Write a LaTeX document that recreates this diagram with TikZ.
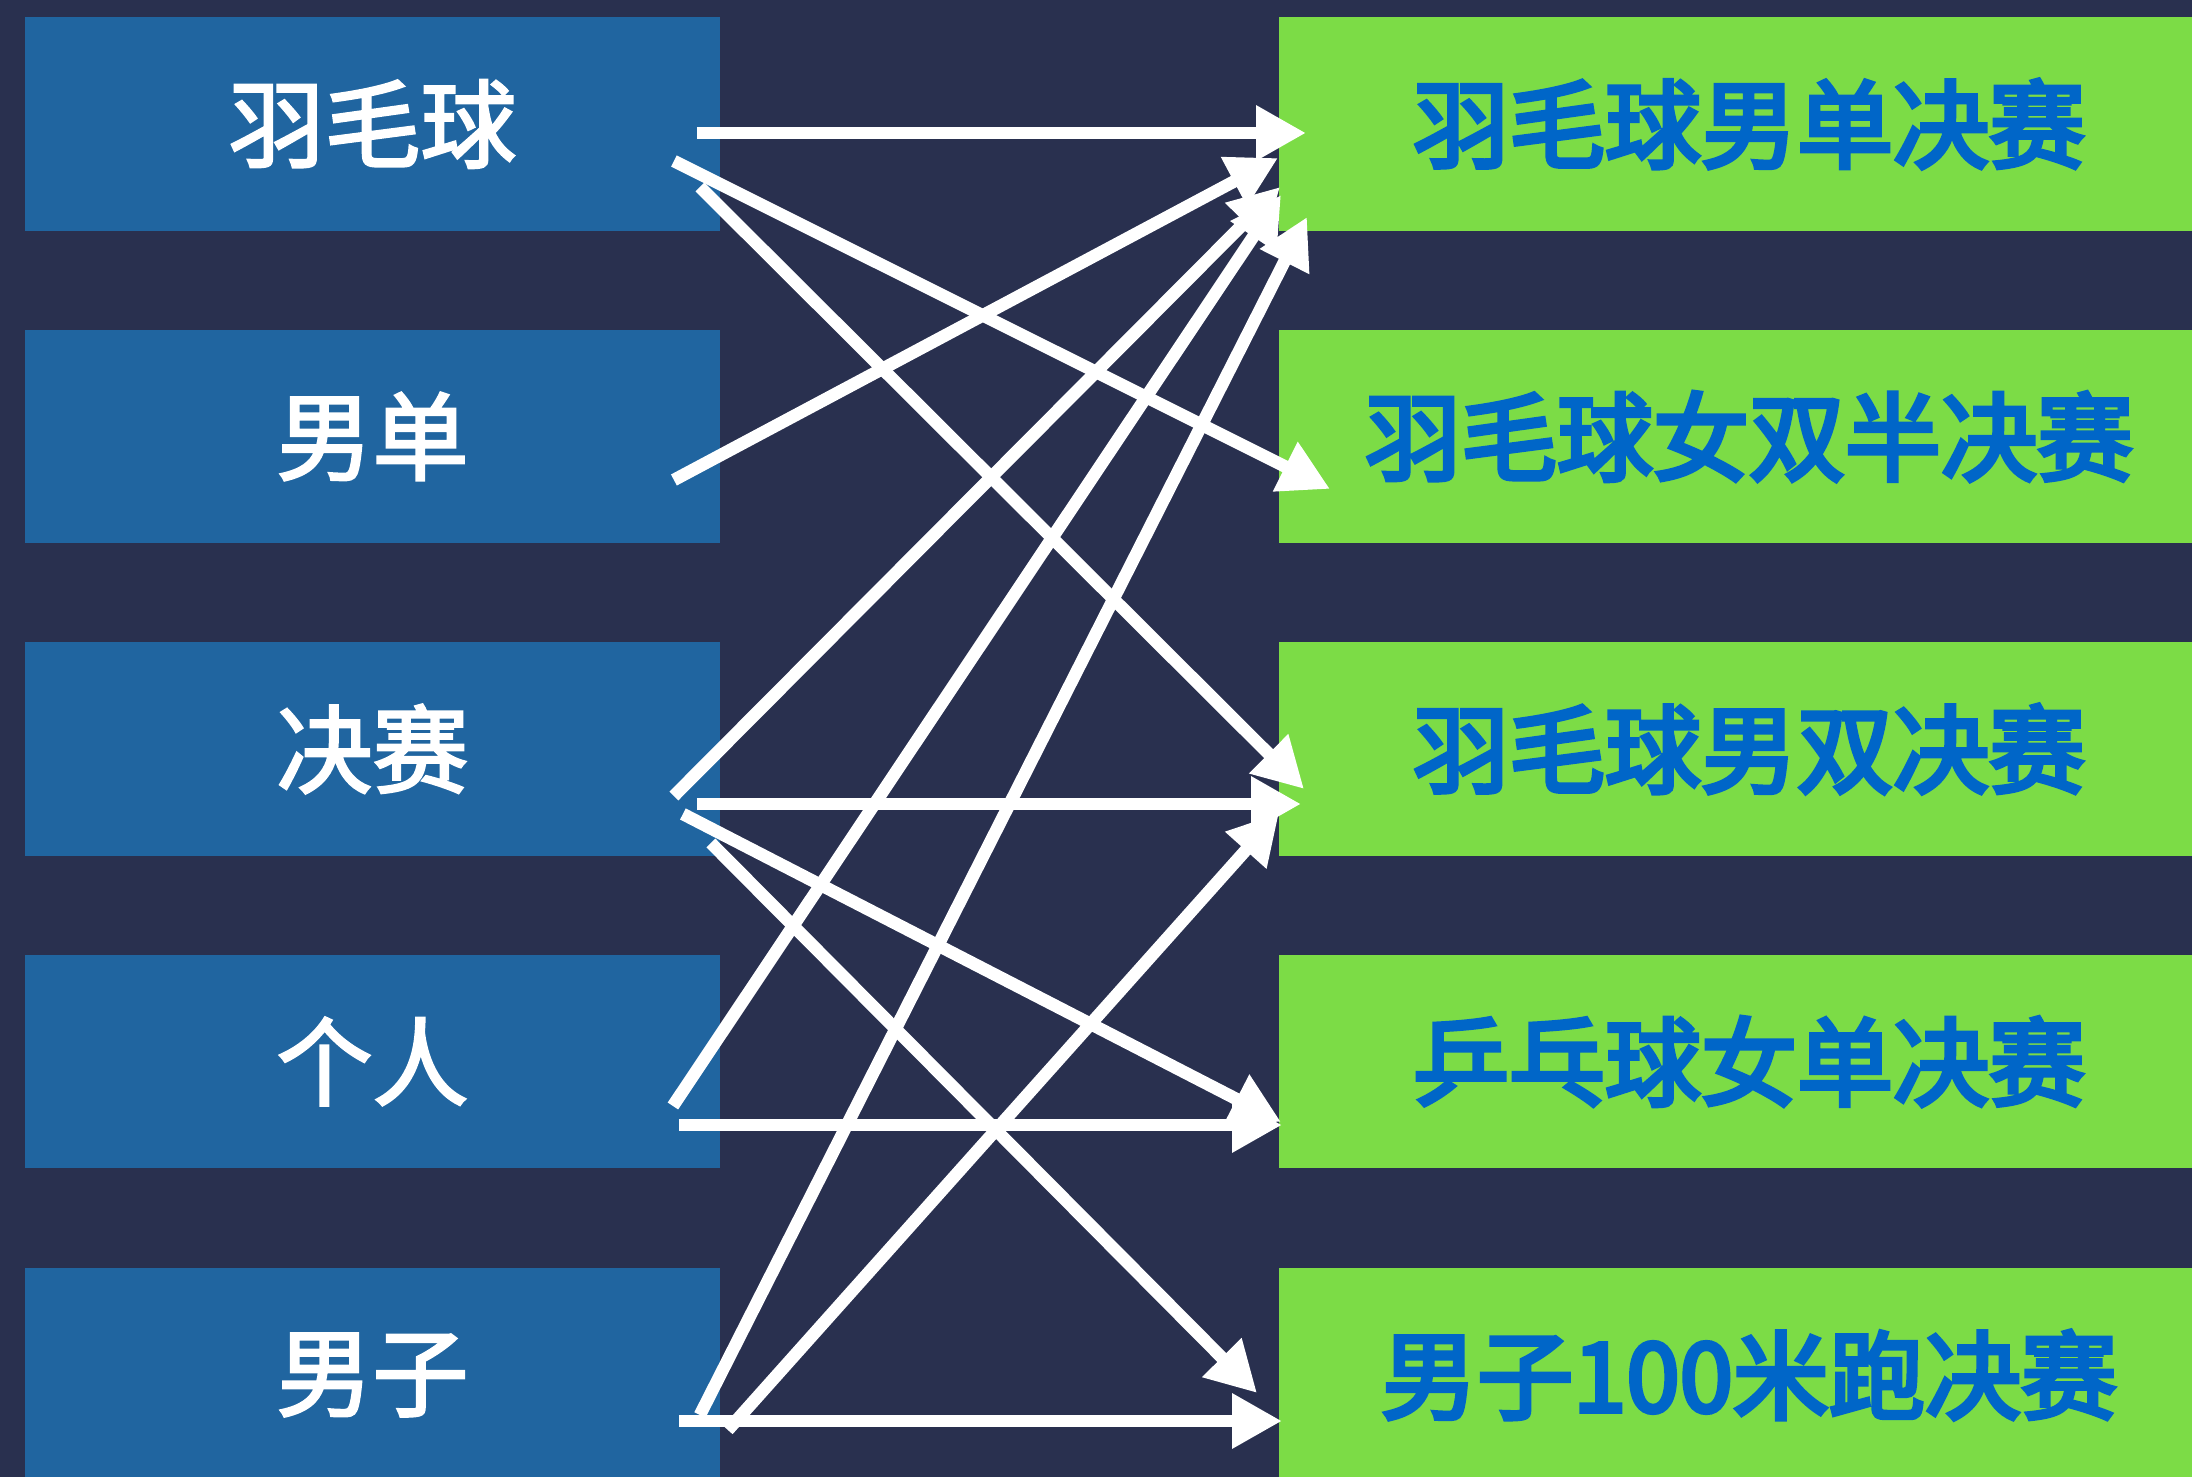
\documentclass[tikz,border=0pt]{standalone}
\usepackage{fontspec}
\newfontfamily\cjkL{Noto Sans CJK SC}[FakeBold=2.5]
\newfontfamily\cjkR{Noto Sans CJK SC}[FakeBold=4.5]
\usetikzlibrary{arrows.meta,calc}
\definecolor{bg}{HTML}{29304F}
\definecolor{lblue}{HTML}{2065A0}
\definecolor{rgreen}{HTML}{7CDC46}
\definecolor{tblue}{HTML}{0066C8}
\begin{document}
\begin{tikzpicture}[x=0.01cm,y=-0.01cm,
  lbox/.style={fill=lblue, minimum width=6.95cm, minimum height=2.13cm, inner sep=0pt, text=white,
    font=\cjkL\fontsize{27.3pt}{30pt}\selectfont},
  rbox/.style={fill=rgreen, minimum width=9.4cm, minimum height=2.13cm, inner sep=0pt, text=tblue,
    font=\cjkR\fontsize{27.3pt}{30pt}\selectfont},
  arr/.style={draw=white, line width=0.125cm, -{Triangle[length=0.5cm,width=0.52cm]}}]
\clip (0,0) rectangle (2192,1477);
\fill[bg] (0,0) rectangle (2192,1477);
% left boxes
\node[lbox] (L1) at (372.5,124) {羽毛球};
\node[lbox] (L2) at (372.5,436.5) {男单};
\node[lbox] (L3) at (372.5,749) {决赛};
\node[lbox] (L4) at (372.5,1061.5) {个人};
\node[lbox] (L5) at (372.5,1375) {男子};
% right boxes
\node[rbox] (R1) at (1749,124) {羽毛球男单决赛};
\node[rbox] (R2) at (1749,436.5) {羽毛球女双半决赛};
\node[rbox] (R3) at (1749,749) {羽毛球男双决赛};
\node[rbox] (R4) at (1749,1061.5) {乒乓球女单决赛};
\node[rbox] (R5) at (1749,1375) {男子100米跑决赛};
% arrows
\draw[arr] ([shift={(-24,9)}]L1.east) -- ([shift={(28,9)}]R1.west);
\draw[arr] ([shift={(-47,37)}]L1.east) -- ([shift={(52,52.5)}]R2.west);
\draw[arr] ([shift={(-21,63)}]L1.east) -- ([shift={(26,40)}]R3.west);
\draw[arr] ([shift={(-47,43.5)}]L2.east) -- ([shift={(0,34)}]R1.west);
\draw[arr] ([shift={(-47,47)}]L3.east) -- ([shift={(2,63)}]R1.west);
\draw[arr] ([shift={(-24,55)}]L3.east) -- ([shift={(23,55)}]R3.west);
\draw[arr] ([shift={(-38,65)}]L3.east) -- ([shift={(3,60.5)}]R4.west);
\draw[arr] ([shift={(-10,94)}]L3.east) -- ([shift={(-21,18)}]R5.west);
\draw[arr] ([shift={(-48,44.5)}]L4.east) -- ([shift={(3,71)}]R1.west);
\draw[arr] ([shift={(-42,63.5)}]L4.east) -- ([shift={(4,63.5)}]R4.west);
\draw[arr] ([shift={(-21,40)}]L5.east) -- ([shift={(29,93)}]R1.west);
\draw[arr] ([shift={(7,55)}]L5.east) -- ([shift={(1,64)}]R3.west);
\draw[arr] ([shift={(-42,46)}]L5.east) -- ([shift={(4,46)}]R5.west);
\end{tikzpicture}
\end{document}
